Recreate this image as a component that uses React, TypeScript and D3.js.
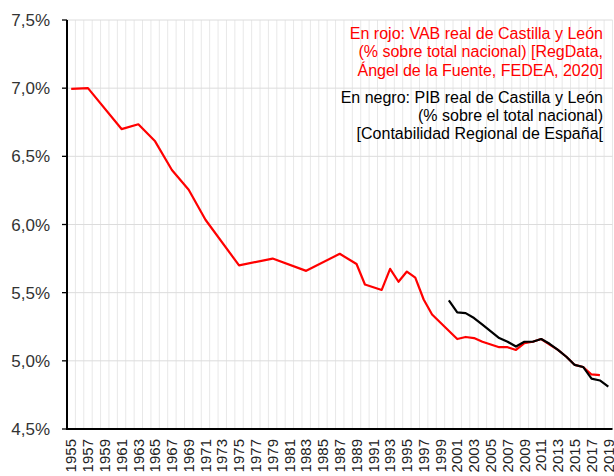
import React from "react";
import * as d3 from "d3";

const years: number[] = d3.range(1955, 2020);
const tickYears: number[] = d3.range(1955, 2020, 2);
const yTicks: number[] = [4.5, 5.0, 5.5, 6.0, 6.5, 7.0, 7.5];

// Red: VAB real Castilla y León (% total nacional), RegData
const vabYears: number[] = [1955, 1957, 1961, 1963, 1965, 1967, 1969, 1971, 1975, 1979, 1983, 1987, 1989, 1990, 1992, 1993, 1994, 1995, 1996, 1997, 1998, 2001, 2002, 2003, 2004, 2005, 2006, 2007, 2008, 2009, 2010, 2011, 2012, 2013, 2014, 2015, 2016, 2017, 2018];
const vabValues: number[] = [6.995, 7.0, 6.7, 6.735, 6.61, 6.4, 6.255, 6.035, 5.7, 5.75, 5.66, 5.785, 5.71, 5.56, 5.52, 5.675, 5.58, 5.655, 5.61, 5.45, 5.34, 5.16, 5.175, 5.167, 5.14, 5.12, 5.1, 5.1, 5.08, 5.13, 5.14, 5.16, 5.12, 5.08, 5.03, 4.97, 4.955, 4.9, 4.895];

// Black: PIB real Castilla y León (% total nacional), CRE
const pibYears: number[] = d3.range(2000, 2020);
const pibValues: number[] = [5.443, 5.355, 5.35, 5.314, 5.265, 5.216, 5.167, 5.14, 5.105, 5.14, 5.14, 5.16, 5.125, 5.08, 5.03, 4.97, 4.955, 4.87, 4.856, 4.81];

const redNote: string[] = [
  "En rojo: VAB real de Castilla y León",
  "(% sobre total nacional) [RegData,",
  "Ángel de la Fuente, FEDEA, 2020]",
];
const blackNote: string[] = [
  "En negro: PIB real de Castilla y León",
  "(% sobre el total nacional)",
  "[Contabilidad Regional de España[",
];

const W = 614;
const H = 476;
const left = 67;
const right = 612.5;
const top = 20;
const bottom = 429;
const FONT = "'Liberation Sans', Arial, sans-serif";

export default function App() {
  const x = d3.scaleBand<number>().domain(years).range([left, right]).padding(0);
  const xc = (yr: number) => (x(yr) as number) + x.bandwidth() / 2;
  const y = d3.scaleLinear().domain([4.5, 7.5]).range([bottom, top]);

  const line = d3
    .line<[number, number]>()
    .x((d) => xc(d[0]))
    .y((d) => y(d[1]));

  const vabPath = line(vabYears.map((yr, i) => [yr, vabValues[i]] as [number, number])) || "";
  const pibPath = line(pibYears.map((yr, i) => [yr, pibValues[i]] as [number, number])) || "";

  const fmt = (v: number) => v.toFixed(1).replace(".", ",") + "%";

  return (
    <svg
      width={W}
      height={H}
      style={{ position: "absolute", left: 0, top: 0, background: "#fff" }}
      fontFamily={FONT}
    >
      {/* vertical gridlines at category boundaries */}
      {years.map((yr) => (
        <line
          key={"vg" + yr}
          x1={(x(yr) as number) + x.bandwidth()}
          x2={(x(yr) as number) + x.bandwidth()}
          y1={top}
          y2={bottom}
          stroke="#e8e8e8"
          strokeWidth={1}
        />
      ))}
      {/* horizontal gridlines */}
      {yTicks.map((t) => (
        <line key={"hg" + t} x1={left} x2={right} y1={y(t)} y2={y(t)} stroke="#dcdcdc" strokeWidth={1} />
      ))}
      {/* y ticks + labels */}
      {yTicks.map((t) => (
        <g key={"yt" + t}>
          <line x1={left - 5} x2={left} y1={y(t)} y2={y(t)} stroke="#000" strokeWidth={1.3} />
          <text x={50} y={y(t)} dy="0.36em" textAnchor="end" fontSize={17} fill="#333">
            {fmt(t)}
          </text>
        </g>
      ))}
      {/* x labels */}
      {tickYears.map((yr) => (
        <text
          key={"xt" + yr}
          transform={`translate(${xc(yr) + 5.2},${bottom + 10}) rotate(-90)`}
          textAnchor="end"
          fontSize={15}
          fill="#222"
        >
          {yr}
        </text>
      ))}
      {/* lines */}
      <path d={vabPath} fill="none" stroke="#ff0000" strokeWidth={2.2} strokeLinejoin="round" />
      <path d={pibPath} fill="none" stroke="#000" strokeWidth={2.2} strokeLinejoin="round" />
      {/* axes */}
      <line x1={left} x2={left} y1={top} y2={bottom + 1} stroke="#000" strokeWidth={2} />
      <line x1={left - 1} x2={right} y1={bottom} y2={bottom} stroke="#000" strokeWidth={2} />
      {/* notes */}
      {redNote.map((s, i) => (
        <text key={"rn" + i} x={603} y={39 + i * 18.4} textAnchor="end" fontSize={16} fill="#ff0000">
          {s}
        </text>
      ))}
      {blackNote.map((s, i) => (
        <text key={"bn" + i} x={603} y={102.5 + i * 18.1} textAnchor="end" fontSize={16} fill="#000">
          {s}
        </text>
      ))}
    </svg>
  );
}
